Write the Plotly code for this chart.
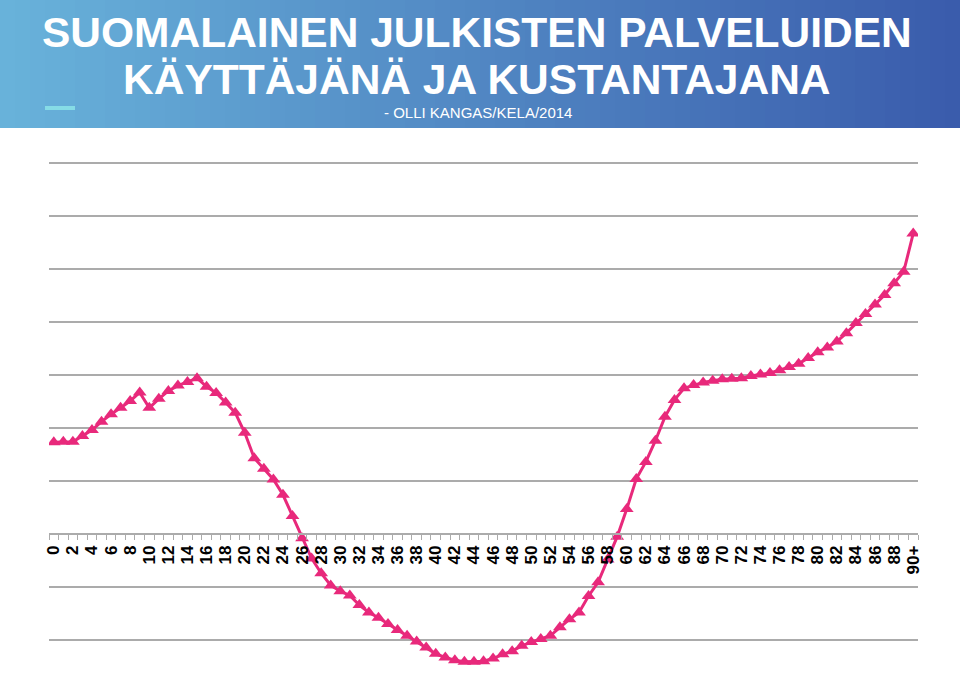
import plotly.graph_objects as go

# ---------------- data ----------------
age_labels = [str(a) for a in range(90)] + ["90+"]
net_values = [1.73, 1.74, 1.74, 1.85, 1.96, 2.12, 2.26, 2.38, 2.51, 2.67,
              2.38, 2.55, 2.70, 2.80, 2.87, 2.94, 2.78, 2.66, 2.48, 2.29,
              1.91, 1.43, 1.23, 1.03, 0.74, 0.34, -0.08, -0.46, -0.74, -0.97,
              -1.08, -1.16, -1.34, -1.48, -1.58, -1.70, -1.81, -1.92, -2.03, -2.14,
              -2.26, -2.33, -2.38, -2.41, -2.41, -2.40, -2.35, -2.27, -2.21, -2.11,
              -2.04, -1.98, -1.92, -1.76, -1.61, -1.48, -1.17, -0.91, -0.48, -0.05,
              0.47, 1.04, 1.36, 1.76, 2.21, 2.53, 2.75, 2.81, 2.86, 2.89,
              2.92, 2.93, 2.94, 2.98, 3.01, 3.04, 3.09, 3.15, 3.21, 3.32,
              3.43, 3.52, 3.63, 3.79, 3.98, 4.15, 4.33, 4.51, 4.73, 4.95,
              5.67]
title_line1 = "SUOMALAINEN JULKISTEN PALVELUIDEN"
title_line2 = "KÄYTTÄJÄNÄ JA KUSTANTAJANA"
subtitle = "- OLLI KANGAS/KELA/2014"

positions = list(range(len(age_labels)))
tick_positions = positions[::2]
tick_texts = age_labels[::2]

# ---------------- geometry helpers ----------------
W, H = 960, 694
ML, MR, MT, MB = 49, 42, 161, 0
PW = W - ML - MR
PH = H - MT - MB
UNIT = 53.0                      # pixels per gridline step
Y_TOP = 7 + (163 - MT) / UNIT    # value at the top edge of the plot area
Y_BOT = Y_TOP - PH / UNIT        # value at the bottom edge


def px_x(px):
    return (px - ML) / PW


def px_y(py):
    return (H - MB - py) / PH


PINK = "#E8297B"
GRID = "#ABABAB"
TITLE_FONT = "Liberation Sans, Arial, sans-serif"

fig = go.Figure()
fig.add_trace(go.Scatter(
    x=positions, y=net_values, mode="lines+markers",
    line=dict(color=PINK, width=3),
    marker=dict(symbol="triangle-up", size=12, color=PINK),
    showlegend=False, hoverinfo="skip",
))

# ---------------- banner ----------------
shapes = []
n = 64
c0 = (104, 178, 218)
c1 = (58, 92, 172)
for k in range(n):
    t = k / (n - 1)
    col = tuple(int(round(c0[j] + (c1[j] - c0[j]) * t)) for j in range(3))
    x0 = W * k / n
    x1 = W * (k + 1) / n + 0.8
    shapes.append(dict(type="rect", xref="paper", yref="paper",
                       x0=px_x(x0), x1=px_x(x1), y0=px_y(128), y1=px_y(0),
                       fillcolor="rgb(%d,%d,%d)" % col, line=dict(width=0),
                       layer="above"))
shapes.append(dict(type="rect", xref="paper", yref="paper",
                   x0=px_x(45), x1=px_x(75), y0=px_y(110), y1=px_y(106),
                   fillcolor="#86DCE6", line=dict(width=0), layer="above"))

annotations = [
    dict(text=title_line1, xref="paper", yref="paper", x=px_x(477), y=px_y(33),
         xanchor="center", yanchor="middle", showarrow=False,
         font=dict(family=TITLE_FONT, size=42.5, color="white", weight="bold")),
    dict(text=title_line2, xref="paper", yref="paper", x=px_x(477), y=px_y(80),
         xanchor="center", yanchor="middle", showarrow=False,
         font=dict(family=TITLE_FONT, size=42.5, color="white", weight="bold")),
    dict(text=subtitle, xref="paper", yref="paper", x=px_x(478), y=px_y(113),
         xanchor="center", yanchor="middle", showarrow=False,
         font=dict(family=TITLE_FONT, size=15, color="white")),
]

fig.update_layout(
    width=W, height=H,
    margin=dict(l=ML, r=MR, t=MT, b=MB, pad=0),
    paper_bgcolor="white", plot_bgcolor="white",
    shapes=shapes, annotations=annotations,
    xaxis=dict(
        range=[-0.5, len(positions) - 0.5],
        anchor="free", position=(0 - Y_BOT) / (Y_TOP - Y_BOT),
        showgrid=False, zeroline=False,
        showline=True, linecolor=GRID, linewidth=1.5,
        tickmode="array", tickvals=tick_positions, ticktext=tick_texts,
        ticks="", tickangle=-90, ticklabelstandoff=4,
        tickfont=dict(family="Liberation Sans, Arial, sans-serif", size=17,
                      color="black", weight="bold"),
        minor=dict(tickmode="array",
                   tickvals=[p - 0.5 for p in positions] + [positions[-1] + 0.5],
                   ticks="outside", ticklen=5, tickcolor=GRID, tickwidth=1,
                   showgrid=False),
    ),
    yaxis=dict(
        range=[Y_BOT, Y_TOP], dtick=1, tick0=0,
        showgrid=True, gridcolor=GRID, gridwidth=1.5,
        zeroline=False, showticklabels=False, ticks="", showline=False,
    ),
)

fig.write_html("out.html")
